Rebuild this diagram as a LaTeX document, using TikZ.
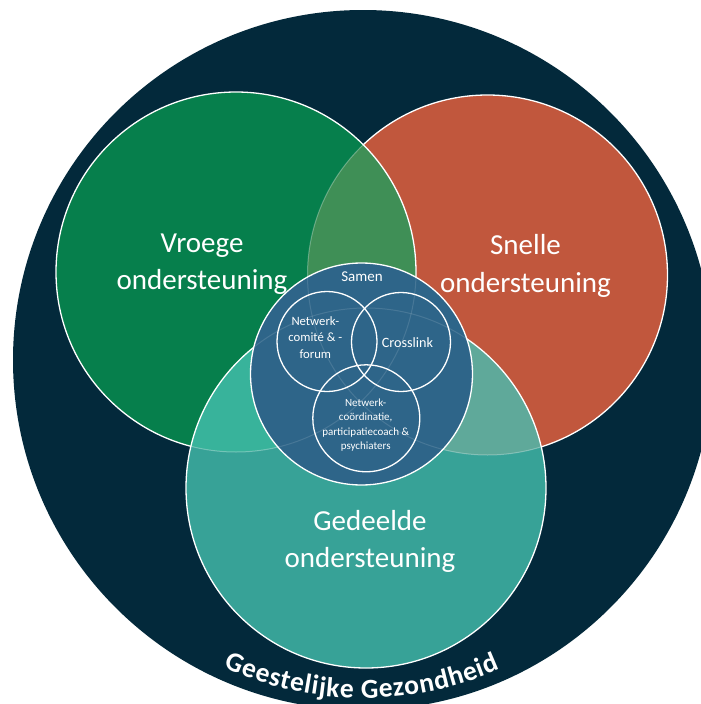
\documentclass[tikz,border=0pt]{standalone}
\usepackage{fontspec}
\setmainfont{Carlito}
\usetikzlibrary{decorations.text}
\definecolor{navy}{HTML}{03293B}
\definecolor{vgreen}{HTML}{067F4C}
\definecolor{vred}{HTML}{C1573D}
\definecolor{vteal}{HTML}{37A297}
\definecolor{vblue}{HTML}{2E6589}
\definecolor{lensGR}{HTML}{3F8F56}
\definecolor{lensTG}{HTML}{38B39B}
\definecolor{lensTR}{HTML}{5FA99A}
\newcommand{\mylines}[1]{\begin{tabular}[t]{@{}c@{}}#1\end{tabular}}
\tikzset{
  rim/.style={draw=white, line width=1.3pt},
  faint/.style={draw=white, draw opacity=0.3, line width=1pt},
  lbl/.style={text=white, inner sep=0pt, anchor=base},
  big/.style={lbl, font=\fontsize{29}{37}\selectfont},
}
\begin{document}
\begin{tikzpicture}[x=1pt,y=-1pt]
\useasboundingbox (0,0) rectangle (701,704);
\fill[white] (0,0) rectangle (701,704);
\clip (0,0) rectangle (701,704);
% centres
\coordinate (cO) at (363,360);
\coordinate (cG) at (236,272);
\coordinate (cR) at (487.5,275);
\coordinate (cT) at (366,488);
\coordinate (cB) at (361.5,374);
\coordinate (c1) at (327,341.5);
\coordinate (c2) at (401,342);
\coordinate (c3) at (366.3,418.3);
% outer circle
\fill[navy] (cO) circle[radius=350];
% red
\fill[vred] (cR) circle[radius=180];
\path[rim] (cR) circle[radius=180];
% green
\fill[vgreen] (cG) circle[radius=180];
\begin{scope}
  \clip (cG) circle[radius=180];
  \fill[lensGR] (cR) circle[radius=180];
  \path[faint] (cR) circle[radius=180];
\end{scope}
\path[rim] (cG) circle[radius=180];
% teal
\fill[vteal] (cT) circle[radius=180];
\begin{scope}
  \clip (cT) circle[radius=180];
  \fill[lensTG] (cG) circle[radius=180];
  \fill[lensTR] (cR) circle[radius=180];
  \path[faint] (cG) circle[radius=180];
  \path[faint] (cR) circle[radius=180];
\end{scope}
\path[rim] (cT) circle[radius=180];
% blue
\fill[vblue] (cB) circle[radius=111];
\begin{scope}
  \clip (cB) circle[radius=111];
  \path[faint, draw opacity=0.12] (cG) circle[radius=180];
  \path[faint, draw opacity=0.12] (cR) circle[radius=180];
  \path[faint, draw opacity=0.12] (cT) circle[radius=180];
\end{scope}
\path[rim] (cB) circle[radius=111];
% inner circles
\path[rim] (c1) circle[radius=50];
\path[rim] (c2) circle[radius=49.5];
\path[rim] (c3) circle[radius=53.5];
% labels
\node[big] (tV) at (202,252.6) {\mylines{Vroege\\ondersteuning}};
\node[big, font=\fontsize{29}{38}\selectfont] (tS) at (525.5,254.8) {\mylines{Snelle\\ondersteuning}};
\node[big] (tG) at (370,530.6) {\mylines{Gedeelde\\ondersteuning}};
\node[lbl, font=\fontsize{15}{18}\selectfont] (tSa) at (362,281.5) {Samen};
\node[lbl, font=\fontsize{12.7}{16.5}\selectfont] (t1) at (315.3,325) {\mylines{Netwerk-\\comité \& -\\forum}};
\node[lbl, font=\fontsize{14.2}{17}\selectfont] (t2) at (407.5,347.3) {Crosslink};
\node[lbl, font=\fontsize{11}{14.2}\selectfont] (t3) at (365.7,406.7) {\mylines{Netwerk-\\coördinatie,\\participatiecoach \&\\psychiaters}};
% curved title
\path[decorate, decoration={text along path, text align=fit to path,
  text={|\fontsize{27.5}{30}\selectfont\bfseries\color{white}|Geestelijke Gezondheid}}]
  (223.3,667.7) arc[start angle=114.5, end angle=66, radius=337];
\end{tikzpicture}
\end{document}
